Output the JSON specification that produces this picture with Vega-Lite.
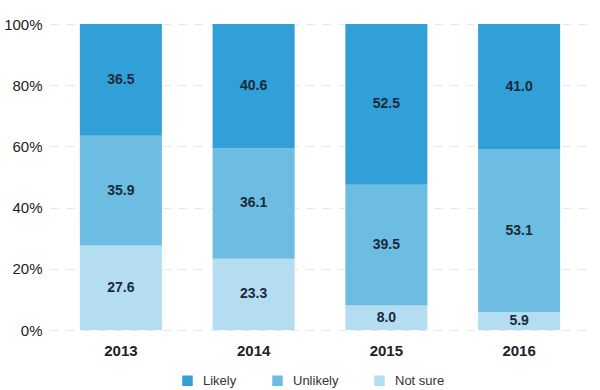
{
  "$schema": "https://vega.github.io/schema/vega-lite/v6.json",
  "width": 540,
  "height": 306,
  "autosize": {"type": "none"},
  "padding": {"left": 50, "top": 24, "right": 10, "bottom": 60},
  "background": "white",
  "config": {
    "view": {"stroke": null},
    "font": "Liberation Sans"
  },
  "data": {
    "values": [
      {"year": "2013", "cat": "Not sure", "v": 27.6},
      {"year": "2013", "cat": "Unlikely", "v": 35.9},
      {"year": "2013", "cat": "Likely", "v": 36.5},
      {"year": "2014", "cat": "Not sure", "v": 23.3},
      {"year": "2014", "cat": "Unlikely", "v": 36.1},
      {"year": "2014", "cat": "Likely", "v": 40.6},
      {"year": "2015", "cat": "Not sure", "v": 8.0},
      {"year": "2015", "cat": "Unlikely", "v": 39.5},
      {"year": "2015", "cat": "Likely", "v": 52.5},
      {"year": "2016", "cat": "Not sure", "v": 5.9},
      {"year": "2016", "cat": "Unlikely", "v": 53.1},
      {"year": "2016", "cat": "Likely", "v": 41.0}
    ]
  },
  "transform": [
    {"window": [{"op": "row_number", "as": "k"}], "groupby": ["year"]},
    {"stack": "v", "groupby": ["year"], "sort": [{"field": "k", "order": "ascending"}], "offset": "normalize", "as": ["y0", "y1"]}
  ],
  "layer": [
    {
      "mark": {"type": "bar"},
      "encoding": {
        "x": {
          "field": "year", "type": "nominal",
          "scale": {"paddingInner": 0.382, "paddingOuter": 0.225},
          "axis": {"title": null, "labelAngle": 0, "domain": false, "ticks": false, "labelPadding": 13, "labelFontSize": 15, "labelFontWeight": "bold", "labelColor": "#222222", "labelFont": "Liberation Sans"}
        },
        "y": {
          "field": "y0", "type": "quantitative",
          "scale": {"domain": [0, 1]},
          "axis": {"title": null, "format": ".0%", "values": [0, 0.2, 0.4, 0.6, 0.8, 1], "domain": false, "ticks": false, "labelPadding": 8, "labelFontSize": 15, "labelColor": "#222222", "gridColor": "#E2E8EC", "gridDash": [8, 8], "gridWidth": 1}
        },
        "y2": {"field": "y1"},
        "color": {
          "field": "cat", "type": "nominal",
          "scale": {"domain": ["Likely", "Unlikely", "Not sure"], "range": ["#31A0D7", "#6DBDE3", "#B4DDF1"]},
          "legend": {"title": null, "orient": "none", "direction": "horizontal", "legendX": 131, "legendY": 350, "symbolType": "square", "symbolSize": 110, "symbolStrokeWidth": 0, "labelFontSize": 13, "labelColor": "#333333", "columnPadding": 34, "labelOffset": 9}
        }
      }
    },
    {
      "transform": [
        {"fold": ["y0", "y1"], "as": ["key", "pos"]}
      ],
      "mark": {"type": "text", "fontSize": 14, "fontWeight": "bold", "color": "#1B2A3A", "baseline": "middle"},
      "encoding": {
        "x": {"field": "year", "type": "nominal"},
        "y": {"aggregate": "mean", "field": "pos", "type": "quantitative"},
        "detail": {"field": "cat"},
        "text": {"field": "v", "type": "quantitative", "format": ".1f"}
      }
    }
  ]
}
